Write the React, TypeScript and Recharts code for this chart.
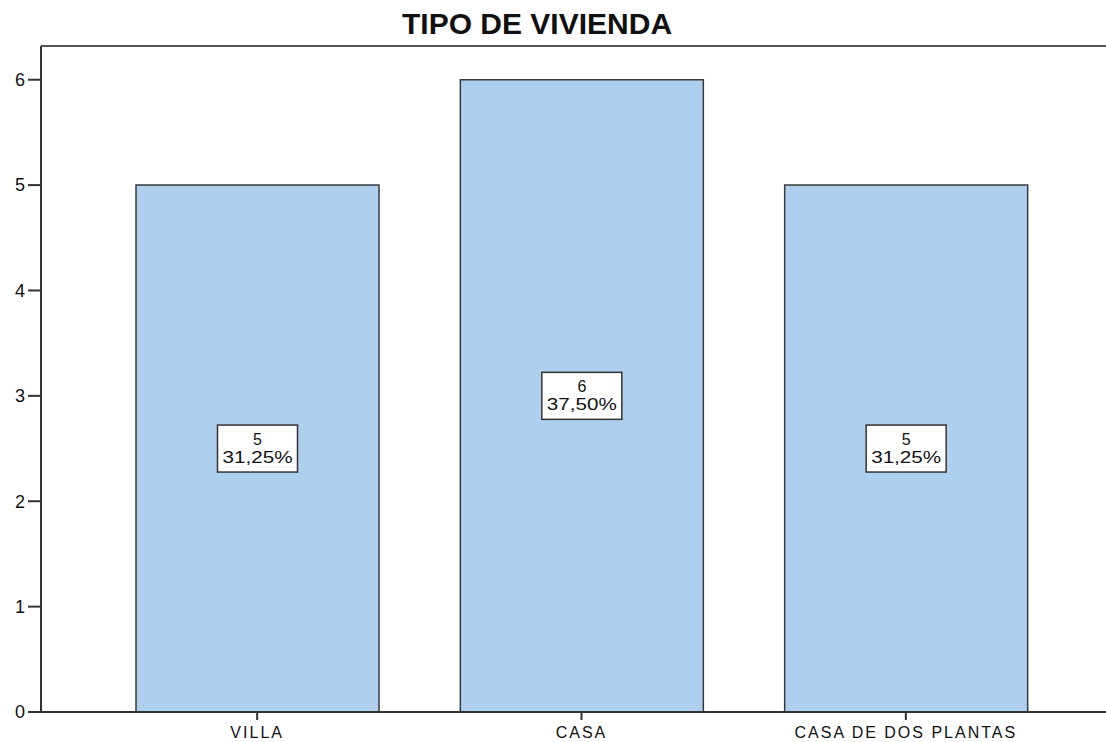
import React from 'react'
import { BarChart, Bar, XAxis, YAxis, LabelList, ReferenceLine } from 'recharts'

const categories = ['VILLA', 'CASA', 'CASA DE DOS PLANTAS']
const counts = [5, 6, 5]
const percents = ['31,25%', '37,50%', '31,25%']
const yTicks = [0, 1, 2, 3, 4, 5, 6]

const data = categories.map((name, i) => ({ name, value: counts[i], pct: percents[i] }))

const FONT = "'Liberation Sans', Arial, sans-serif"

const BoxLabel = (props: any) => {
  const { x, y, width, height, index } = props
  const cx = x + width / 2
  const cy = y + height / 2
  const w = 80
  const h = 47
  return (
    <g>
      <rect x={cx - w / 2} y={cy - h / 2} width={w} height={h} fill="#ffffff" stroke="#333" strokeWidth={1.5} />
      <text x={cx} y={cy - 4} textAnchor="middle" fontSize={16} fill="#111" fontFamily={FONT}>
        {counts[index]}
      </text>
      <text
        x={cx}
        y={cy + 14}
        textAnchor="middle"
        fontSize={16}
        fill="#111"
        fontFamily={FONT}
        textLength={70}
        lengthAdjust="spacingAndGlyphs"
      >
        {percents[index]}
      </text>
    </g>
  )
}

export default function App() {
  return (
    <div style={{ position: 'absolute', left: 0, top: 0, width: 1106, height: 742, overflow: 'hidden', background: '#fff' }}>
      <div
        style={{
          position: 'absolute',
          left: 402,
          top: 9,
          whiteSpace: 'nowrap',
          fontFamily: FONT,
          fontWeight: 'bold',
          fontSize: 30,
          lineHeight: '30px',
          color: '#111',
        }}
      >
        TIPO DE VIVIENDA
      </div>
      <BarChart
        width={1130}
        height={742}
        data={data}
        margin={{ top: 46, right: 8, left: 0, bottom: 0 }}
        barSize={243}
        style={{ position: 'absolute', left: 0, top: 0 }}
      >
        <ReferenceLine y={6.32} stroke="#555" strokeWidth={2} />
        <XAxis
          dataKey="name"
          height={30}
          padding={{ left: 54, right: 54 }}
          tickSize={8}
          tickMargin={7}
          tick={{ fill: '#111', fontSize: 16, fontFamily: FONT, letterSpacing: 2 }}
          axisLine={{ stroke: '#333', strokeWidth: 2 }}
          tickLine={{ stroke: '#333', strokeWidth: 2 }}
        />
        <YAxis
          width={41}
          domain={[0, 6.32]}
          ticks={yTicks}
          allowDataOverflow
          tickSize={13}
          tickMargin={3}
          tick={{ fill: '#111', fontSize: 18, fontFamily: FONT }}
          axisLine={{ stroke: '#333', strokeWidth: 2 }}
          tickLine={{ stroke: '#333', strokeWidth: 2 }}
        />
        <Bar dataKey="value" fill="#aecfee" stroke="#3a3a3a" strokeWidth={1.5} isAnimationActive={false}>
          <LabelList dataKey="value" content={<BoxLabel />} />
        </Bar>
      </BarChart>
    </div>
  )
}
